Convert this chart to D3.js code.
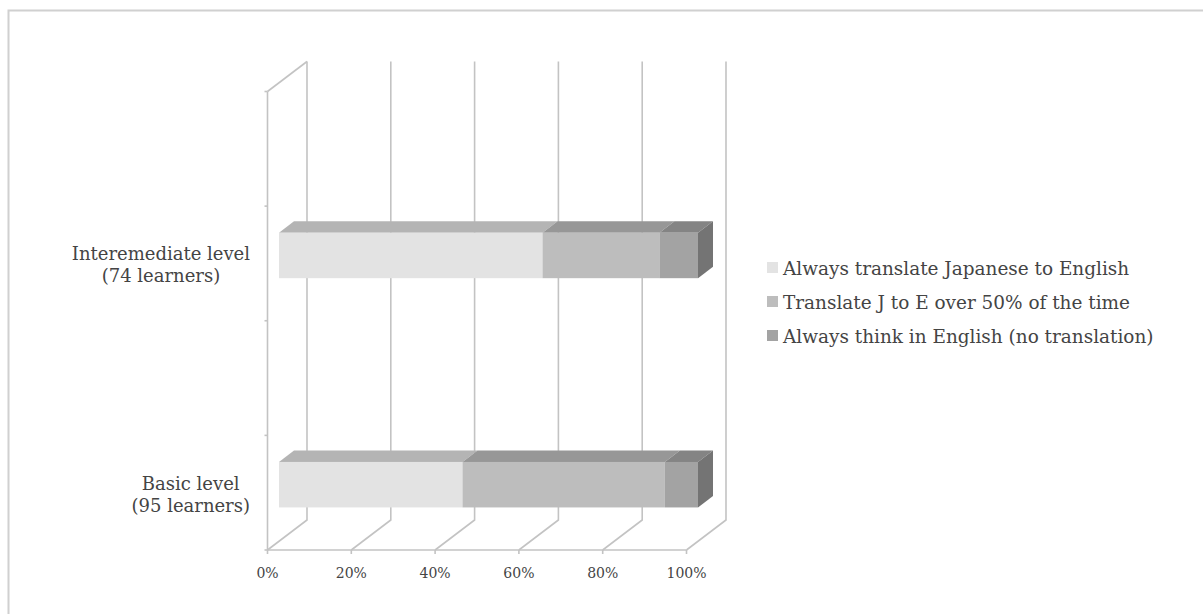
<!DOCTYPE html>
<html>
<head>
<meta charset="utf-8">
<script src="https://cdnjs.cloudflare.com/ajax/libs/d3/7.8.5/d3.min.js"></script>
<style>
html,body{margin:0;padding:0;background:#fff}
svg{display:block}
text{font-family:"DejaVu Serif","Liberation Serif",serif;fill:#444}
</style>
</head>
<body>
<svg id="chart" width="1203" height="614"></svg>
<script>
// Chart content
const categories = ["", "Interemediate level|(74 learners)", " ", "Basic level|(95 learners)"];
const seriesNames = [
  "Always translate Japanese to English",
  "Translate J to E over 50% of the time",
  "Always think in English (no translation)"
];
const basicValues = [43.8, 48.3, 7.9];
const intermediateValues = [62.9, 27.9, 9.2];
const percentTicks = [0, 20, 40, 60, 80, 100];

// Grey shades of each series: front, top and side faces
const frontFill = ["#e3e3e3", "#bdbdbd", "#a3a3a3"];
const topFill = ["#b4b4b4", "#979797", "#848484"];
const sideFill = "#747474";

const svg = d3.select("#chart");
const wall = "#c3c3c3";

// Oblique projection: floor runs back up and to the right
const floorDepth = {dx: 39.5, dy: -30};
const barInset = {dx: 11.5, dy: -11.5};
const barDepth = {dx: 15, dy: -11.5};
const barHeight = 45.5;

const x = d3.scaleLinear().domain([0, 100]).range([267.5, 686.5]);
const y = d3.scaleBand().domain(categories).range([91.5, 550]);
const pts = a => a.map(p => p.join(",")).join(" ");

// Frame: top and left edges run off the page
svg.append("path").attr("fill", "none").attr("stroke", "#d0d0d0").attr("stroke-width", 2)
  .attr("d", "M8.5,614V10.5H1203");

// Walls and gridlines
const axes = svg.append("g").attr("fill", "none").attr("stroke", wall).attr("stroke-width", 1.6);
percentTicks.forEach(t => {
  const fx = x(t), bx = fx + floorDepth.dx, fy = y.range()[1], by = fy + floorDepth.dy;
  axes.append("polyline")
    .attr("points", pts([[fx, fy], [bx, by], [bx, y.range()[0] + floorDepth.dy]]));
});
axes.append("line").attr("x1", x(0)).attr("x2", x(100))
  .attr("y1", y.range()[1]).attr("y2", y.range()[1]);
axes.append("line").attr("x1", x(0)).attr("x2", x(0))
  .attr("y1", y.range()[0]).attr("y2", y.range()[1]);
axes.append("line").attr("x1", x(0)).attr("x2", x(0) + floorDepth.dx)
  .attr("y1", y.range()[0]).attr("y2", y.range()[0] + floorDepth.dy);
axes.selectAll(".ytick").data(d3.range(5)).join("line")
  .attr("x1", x(0) - 3).attr("x2", x(0))
  .attr("y1", i => y.range()[1] - i * y.step()).attr("y2", i => y.range()[1] - i * y.step());
axes.selectAll(".xtick").data(percentTicks).join("line")
  .attr("x1", d => x(d)).attr("x2", d => x(d))
  .attr("y1", y.range()[1]).attr("y2", y.range()[1] + 4);

// Stacked 3D bars
const barScale = v => x(v) + barInset.dx;
function drawBar(name, values) {
  const cum = d3.cumsum(values);
  const yTop = y(name) + y.bandwidth() / 2 + barInset.dy + 3.5 - barHeight / 2;
  const yBot = yTop + barHeight;
  const g = svg.append("g");
  values.forEach((v, i) => {
    const x0 = barScale(i ? cum[i - 1] : 0), x1 = barScale(cum[i]);
    g.append("polygon").attr("fill", topFill[i]).attr("points", pts([
      [x0, yTop], [x0 + barDepth.dx, yTop + barDepth.dy],
      [x1 + barDepth.dx, yTop + barDepth.dy], [x1, yTop]]));
    g.append("rect").attr("x", x0).attr("y", yTop).attr("width", x1 - x0)
      .attr("height", barHeight).attr("fill", frontFill[i]);
  });
  const xe = barScale(100);
  g.append("polygon").attr("fill", sideFill).attr("points", pts([
    [xe, yTop], [xe + barDepth.dx, yTop + barDepth.dy],
    [xe + barDepth.dx, yBot + barDepth.dy], [xe, yBot]]));
}
drawBar(categories[3], basicValues);
drawBar(categories[1], intermediateValues);

// Category labels: each two-line block ends at the same right edge, lines centred in it
[categories[1], categories[3]].forEach(c => {
  const cy = y(c) + y.bandwidth() / 2;
  const g = svg.append("g");
  const lines = c.split("|").map((line, i) =>
    g.append("text").attr("y", cy + (i ? 19 : -3)).attr("text-anchor", "middle")
      .attr("font-size", 18).text(line));
  const w = d3.max(lines, t => t.node().getComputedTextLength());
  lines.forEach(t => t.attr("x", 250 - w / 2));
});

// Percent labels
svg.selectAll(".pct").data(percentTicks).join("text")
  .attr("x", d => x(d)).attr("y", 578).attr("text-anchor", "middle")
  .attr("font-size", 14).text(d => d + "%");

// Legend
seriesNames.forEach((s, i) => {
  const ly = 268.5 + i * 34;
  svg.append("rect").attr("x", 767).attr("y", ly - 6.5).attr("width", 11).attr("height", 11)
    .attr("fill", frontFill[i]);
  svg.append("text").attr("x", 783).attr("y", ly + 6.5).attr("font-size", 18.45).text(s);
});
</script>
</body>
</html>
